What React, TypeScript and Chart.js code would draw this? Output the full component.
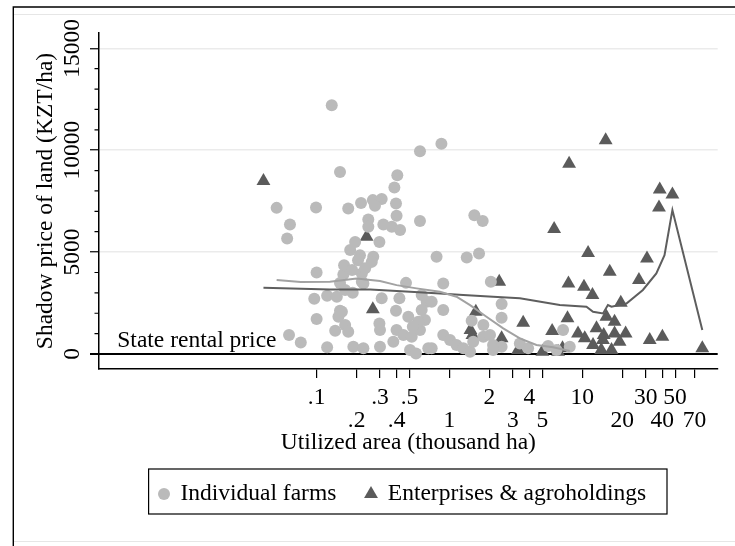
import React, { useEffect, useRef } from "react";
import { Chart, registerables } from "chart.js";

Chart.register(...registerables);

const FONT = '"Liberation Serif", "Times New Roman", serif';

// Individual farms: utilized area (thousand ha), shadow price of land (KZT/ha)
const farmsArea = [
  0.13, 0.6, 0.87, 0.15, 0.405, 0.385, 0.05, 0.099, 0.173, 0.216, 0.265, 0.309, 0.275, 0.396,
  0.063, 0.06, 0.245, 0.4, 0.318, 0.368, 0.425, 0.6, 0.245, 0.297, 0.195, 0.179, 0.212, 0.267,
  0.8, 1.54, 1.78, 1.35, 1.67, 0.1, 0.159, 0.096, 0.12, 0.1, 0.062, 0.076, 0.12, 0.138, 0.15,
  0.15, 0.205, 0.26, 0.219, 0.225, 0.164, 0.187, 0.142, 0.155, 0.146, 0.164, 0.173, 0.309,
  0.297, 0.3, 0.42, 0.471, 0.396, 0.49, 0.4, 0.45, 0.52, 0.6, 0.674, 0.618, 0.654, 0.583, 0.53,
  0.189, 0.225, 0.3, 0.378, 0.505, 0.56, 0.693, 0.219, 0.618, 0.898, 0.898, 0.898, 2.05, 0.735,
  2.47, 2.47, 1.47, 1.8, 1.01, 1.13, 1.27, 1.43, 1.8, 2.02, 0.735, 2.13, 2.47, 3.39, 3.91, 5.53,
  6.4, 1.51, 2.13, 7.17, 8.05, 0.161, 0.185, 0.232,
];
const farmsPrice = [
  12200, 9950, 10320, 8930, 8770, 8170, 7170, 7190, 7140, 7410, 7550, 7600, 7270, 7380,
  6350, 5670, 6600, 6780, 6350, 6240, 6080, 6530, 6240, 5500, 5500, 5100, 4850, 4770,
  4770, 6810, 6530, 4740, 4930, 4000, 3900, 2710, 2860, 1715, 930, 570, 330, 1140, 2120,
  3480, 4600, 4520, 3950, 3460, 3140, 3000, 2810, 2070, 1830, 1420, 1090, 2730,
  1500, 1180, 2730, 3490, 2120, 1830, 1180, 930, 850, 1180, 2560, 2160, 1670, 1580, 1340,
  360, 280, 360, 600, 200, 30, 280, 3540, 2890, 3460, 2160, 930, 3540, 2560,
  2450, 1780, 1630, 1420, 690, 440, 280, 110, 850, 930, 280, 440, 360, 520, 280, 390,
  200, 600, 200, 1180, 360, 4360, 4120, 4210,
];

// Enterprises & agroholdings
const entArea = [
  0.0398, 0.238, 0.265, 2.37, 1.58, 1.44, 1.49, 3.59, 2.47, 5.93, 3.29, 5.01, 6.58, 6.14,
  15.0, 7.96, 38.3, 47.7, 37.8, 11.06, 30.7, 16.1, 7.87, 26.7, 10.3, 11.93, 19.5, 7.74,
  15.2, 17.5, 9.29, 12.8, 14.5, 21.2, 10.44, 17.5, 12.05, 14.3, 19.1, 7.1, 13.9, 16.6,
  32.2, 40.1, 80.1,
];
const entPrice = [
  8490, 5750, 2190, 3540, 2070, 1180, 930, 1530, 770, 1130, 200, 110, 110, 6130,
  10490, 9340, 8070, 7830, 7190, 4960, 4690, 4030, 3460, 3630, 3300, 2890, 2510, 1750,
  1830, 1580, 1010, 1260, 930, 1010, 770, 1010, 440, 690, 600, 280, 200, 200,
  690, 850, 280,
];

// Smoothed (lowess) curves
const farmsFitArea = [0.05, 0.076, 0.126, 0.2, 0.3, 0.4, 0.566, 0.848, 1.13, 1.43, 1.9, 2.54, 3.39, 4.52, 6.03, 8.05];
const farmsFitPrice = [3630, 3530, 3540, 3710, 3580, 3380, 3220, 3050, 2810, 2400, 1830, 1260, 770, 440, 330, 150];
const entFitArea = [0.0398, 0.126, 0.253, 0.505, 0.848, 1.27, 2.13, 3.39, 6.77, 10.75, 12.05, 14.33, 15.6, 16.6, 21.5, 28.6, 36.1, 41.6, 47.7, 80.1];
const entFitPrice = [3250, 3170, 3170, 3050, 2970, 2890, 2810, 2730, 2400, 2320, 2070, 1990, 2400, 2320, 2480, 3140, 3950, 4850, 7060, 1180];

const xTickValues = [0.1, 0.2, 0.3, 0.4, 0.5, 1, 2, 3, 4, 5, 10, 20, 30, 40, 50, 70];
const xTickLabels = [".1", ".2", ".3", ".4", ".5", "1", "2", "3", "4", "5", "10", "20", "30", "40", "50", "70"];
const yMajorTicks = [0, 5000, 10000, 15000];
const yMinorTicks = [1000, 2000, 3000, 4000, 6000, 7000, 8000, 9000, 11000, 12000, 13000, 14000];
const refValue = 0;
const refLabel = "State rental price";
const xTitle = "Utilized area (thousand ha)";
const yTitle = "Shadow price of land (KZT/ha)";

const FARM_COLOR = "#bababa";
const ENT_COLOR = "#5b5b5b";

const toPoints = (xs: number[], ys: number[]) => xs.map((x, i) => ({ x, y: ys[i] }));

const decorPlugin = {
  id: "decor",
  beforeDraw(chart: any) {
    const ctx = chart.ctx;
    ctx.save();
    ctx.fillStyle = "#ffffff";
    ctx.fillRect(0, 0, chart.width, chart.height);
    ctx.strokeStyle = "#e6e6e6";
    ctx.lineWidth = 1;
    ctx.beginPath();
    ctx.moveTo(13, 14.5);
    ctx.lineTo(chart.width, 14.5);
    ctx.moveTo(13, 541.5);
    ctx.lineTo(chart.width, 541.5);
    ctx.stroke();
    ctx.strokeStyle = "#000000";
    ctx.lineWidth = 1.4;
    ctx.beginPath();
    ctx.moveTo(13.3, chart.height);
    ctx.lineTo(13.3, 7);
    ctx.lineTo(chart.width, 7);
    ctx.stroke();
    ctx.restore();
  },
  beforeDatasetsDraw(chart: any) {
    const ctx = chart.ctx;
    const { left, right } = chart.chartArea;
    const y = chart.scales.y.getPixelForValue(refValue);
    ctx.save();
    ctx.strokeStyle = "#000000";
    ctx.lineWidth = 2;
    ctx.beginPath();
    ctx.moveTo(left - 9, y);
    ctx.lineTo(right, y);
    ctx.stroke();
    ctx.fillStyle = "#000000";
    ctx.font = `23.5px ${FONT}`;
    ctx.textAlign = "left";
    ctx.textBaseline = "alphabetic";
    ctx.fillText(refLabel, left + 18.3, y - 6.7);
    ctx.restore();
  },
  afterDraw(chart: any) {
    const ctx = chart.ctx;
    const ys = chart.scales.y;
    const left = chart.chartArea.left;
    ctx.save();
    // minor y ticks
    ctx.strokeStyle = "#000000";
    ctx.lineWidth = 1.2;
    ctx.beginPath();
    yMinorTicks.forEach((v) => {
      const py = ys.getPixelForValue(v);
      ctx.moveTo(left - 4.5, py);
      ctx.lineTo(left, py);
    });
    ctx.stroke();
    // rotated y tick labels
    ctx.fillStyle = "#000000";
    ctx.font = `23.5px ${FONT}`;
    ctx.textAlign = "center";
    ctx.textBaseline = "middle";
    yMajorTicks.forEach((v) => {
      const py = ys.getPixelForValue(v);
      ctx.save();
      ctx.translate(72.5, py);
      ctx.rotate(-Math.PI / 2);
      ctx.fillText(String(v), 0, 0);
      ctx.restore();
    });
    // legend
    const ds = chart.data.datasets;
    const farms = ds[2];
    const ent = ds[3];
    const bx = 148.6, by = 469, bw = 667 - 148.6, bh = 514 - 469;
    ctx.strokeStyle = "#000000";
    ctx.lineWidth = 1.2;
    ctx.strokeRect(bx, by, bw, bh);
    const cy = 494;
    ctx.fillStyle = farms.pointBackgroundColor;
    ctx.beginPath();
    ctx.arc(164, cy, 6, 0, Math.PI * 2);
    ctx.fill();
    const r = 8;
    ctx.fillStyle = ent.pointBackgroundColor;
    ctx.beginPath();
    ctx.moveTo(371, cy - r);
    ctx.lineTo(371 + r * Math.sin((2 * Math.PI) / 3), cy + r / 2);
    ctx.lineTo(371 - r * Math.sin((2 * Math.PI) / 3), cy + r / 2);
    ctx.closePath();
    ctx.fill();
    ctx.fillStyle = "#000000";
    ctx.textAlign = "left";
    ctx.textBaseline = "middle";
    ctx.fillText(farms.label, 180.4, cy);
    ctx.fillText(ent.label, 387.8, cy);
    ctx.restore();
  },
};

export default function App() {
  const ref = useRef<HTMLCanvasElement | null>(null);
  useEffect(() => {
    if (!ref.current) return;
    const chart = new Chart(ref.current, {
      type: "scatter",
      data: {
        datasets: [
          {
            label: "Lowess farms",
            data: toPoints(farmsFitArea, farmsFitPrice),
            showLine: true,
            borderColor: "#a2a2a2",
            borderWidth: 2,
            pointRadius: 0,
            tension: 0,
          },
          {
            label: "Lowess enterprises",
            data: toPoints(entFitArea, entFitPrice),
            showLine: true,
            borderColor: "#5e5e5e",
            borderWidth: 2,
            pointRadius: 0,
            tension: 0,
          },
          {
            label: "Individual farms",
            data: toPoints(farmsArea, farmsPrice),
            pointStyle: "circle",
            pointRadius: 6,
            pointBackgroundColor: FARM_COLOR,
            pointBorderWidth: 0,
            pointBorderColor: FARM_COLOR,
          },
          {
            label: "Enterprises & agroholdings",
            data: toPoints(entArea, entPrice),
            pointStyle: "triangle",
            pointRadius: 8,
            pointBackgroundColor: ENT_COLOR,
            pointBorderWidth: 0,
            pointBorderColor: ENT_COLOR,
          },
        ],
      } as any,
      options: {
        responsive: false,
        animation: false,
        devicePixelRatio: 1,
        events: [],
        layout: { padding: { left: 0, right: 17.3, top: 33, bottom: 91.25 } },
        plugins: { legend: { display: false }, tooltip: { enabled: false } },
        scales: {
          x: {
            type: "logarithmic",
            min: 0.0023,
            max: 104.6,
            afterBuildTicks: (s: any) => {
              s.ticks = xTickValues.map((v) => ({ value: v }));
            },
            afterFit: (s: any) => {
              s.height = 85.75;
            },
            grid: { drawOnChartArea: false, drawTicks: true, tickLength: 9, color: "#000", lineWidth: 1.2 },
            border: { display: true, color: "#000", width: 1.5 },
            ticks: {
              autoSkip: false,
              maxRotation: 0,
              minRotation: 0,
              padding: 7.75,
              color: "#000",
              font: { family: FONT, size: 23.5, lineHeight: 1 },
              callback: (_v: any, i: number) => (i % 2 === 0 ? [xTickLabels[i], ""] : ["", xTickLabels[i]]),
            },
            title: {
              display: true,
              text: xTitle,
              color: "#000",
              font: { family: FONT, size: 23.5, lineHeight: 1 },
              padding: { top: 0, bottom: 0 },
            },
          },
          y: {
            type: "linear",
            min: -736,
            max: 15750,
            afterBuildTicks: (s: any) => {
              s.ticks = yMajorTicks.map((v) => ({ value: v }));
            },
            afterFit: (s: any) => {
              s.width = 99;
            },
            grid: {
              drawOnChartArea: true,
              color: (c: any) => (c.tick && c.tick.value > 0 ? "#ebebeb" : "rgba(0,0,0,0)"),
              lineWidth: 1.5,
              drawTicks: true,
              tickLength: 9,
              tickColor: "#000",
              tickWidth: 1.2,
            },
            border: { display: true, color: "#000", width: 1.5 },
            ticks: { display: false },
            title: {
              display: true,
              text: yTitle,
              color: "#000",
              font: { family: FONT, size: 23.5, lineHeight: 1 },
              padding: { top: 34.25, bottom: 0 },
            },
          },
        },
      } as any,
      plugins: [decorPlugin],
    });
    return () => chart.destroy();
  }, []);
  return (
    <div style={{ position: "fixed", left: 0, top: 0, width: 735, height: 546 }}>
      <canvas ref={ref} width={735} height={546} style={{ display: "block" }} />
    </div>
  );
}
